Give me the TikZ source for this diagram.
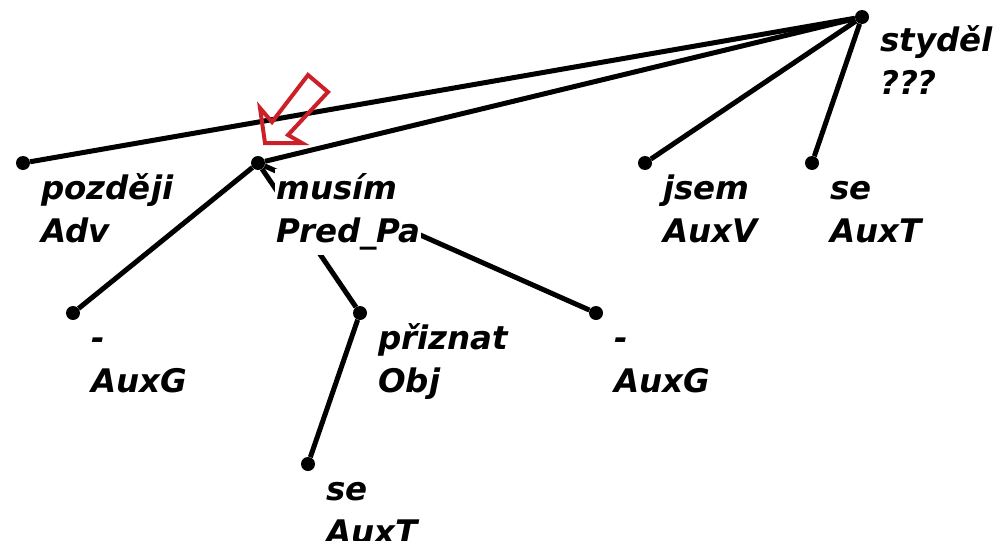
\documentclass[tikz,border=0pt]{standalone}
\usepackage{fontspec}
\newfontfamily\treefont{DejaVu Sans}
\definecolor{annored}{RGB}{204,32,40}
\newcommand\lblstyle{\treefont\bfseries\itshape\fontsize{32.5}{43}\selectfont}
\tikzset{
  tnode/.style={circle,fill=black,inner sep=0pt,minimum size=14pt},
  dep/.style={draw,line width=5pt},
  form/.style={anchor=base west,fill=white,inner xsep=1pt,inner ysep=0pt,
    text height=30pt,text depth=13pt,font=\lblstyle},
}
\begin{document}
\begin{tikzpicture}[x=1pt,y=-1pt]
  \useasboundingbox (0,0) rectangle (994,541);

  \begin{scope}[every node/.style={tnode}]
    \node (stydel)  at (862,17)  {};
    \node (pozdeji) at (23,163)  {};
    \node (musim)   at (258,163) {};
    \node (jsem)    at (645,163) {};
    \node (seA)     at (812,163) {};
    \node (auxgA)   at (73,313)  {};
    \node (priznat) at (360,313) {};
    \node (auxgB)   at (596,313) {};
    \node (seB)     at (308,464) {};
  \end{scope}

  \begin{scope}[every edge/.style={dep}]
    \path (stydel)  edge (pozdeji);
    \path (stydel)  edge (musim);
    \path (stydel)  edge (jsem);
    \path (stydel)  edge (seA);
    \path (musim)   edge (auxgA);
    \path (musim)   edge (priznat);
    \path (musim)   edge (auxgB);
    \path (priznat) edge (seB);
  \end{scope}

  % form and afun of every node
  \node[form,xshift=17pt,yshift=-34pt] (stydel-f) at (stydel) {styděl};
  \node[form,yshift=-43pt] (stydel-a) at (stydel-f.base west) {???};
  \node[form,xshift=17pt,yshift=-36pt] (pozdeji-f) at (pozdeji) {později};
  \node[form,yshift=-43pt] (pozdeji-a) at (pozdeji-f.base west) {Adv};
  \node[form,xshift=17pt,yshift=-36pt] (musim-f) at (musim) {musím};
  \node[form,yshift=-43pt] (musim-a) at (musim-f.base west) {Pred\_Pa};
  \node[form,xshift=17pt,yshift=-36pt] (jsem-f) at (jsem) {jsem};
  \node[form,yshift=-43pt] (jsem-a) at (jsem-f.base west) {AuxV};
  \node[form,xshift=17pt,yshift=-36pt] (seA-f) at (seA) {se};
  \node[form,yshift=-43pt] (seA-a) at (seA-f.base west) {AuxT};
  \node[form,xshift=17pt,yshift=-36pt] (auxgA-f) at (auxgA) {-};
  \node[form,yshift=-43pt] (auxgA-a) at (auxgA-f.base west) {AuxG};
  \node[form,xshift=17pt,yshift=-36pt] (priznat-f) at (priznat) {přiznat};
  \node[form,yshift=-43pt] (priznat-a) at (priznat-f.base west) {Obj};
  \node[form,xshift=17pt,yshift=-36pt] (auxgB-f) at (auxgB) {-};
  \node[form,yshift=-43pt] (auxgB-a) at (auxgB-f.base west) {AuxG};
  \node[form,xshift=17pt,yshift=-36pt] (seB-f) at (seB) {se};
  \node[form,yshift=-43pt] (seB-a) at (seB-f.base west) {AuxT};

  % pointer to the node
  \draw[annored,line width=4pt] (265,143) -- (260,108) -- (272,122) -- (308,75)
    -- (328,92) -- (288,135) -- (302,143) -- cycle;

\end{tikzpicture}
\end{document}
